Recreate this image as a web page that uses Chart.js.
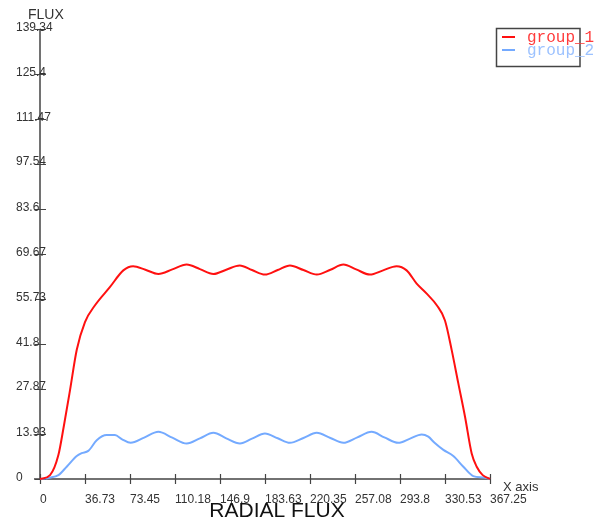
<!DOCTYPE html>
<html>
<head>
<meta charset="utf-8">
<title>RADIAL FLUX</title>
<script src="https://cdn.jsdelivr.net/npm/chart.js@4/dist/chart.umd.min.js"></script>
<style>
  html, body { margin: 0; padding: 0; background: #ffffff; }
  #wrap { width: 605px; height: 523px; }
</style>
</head>
<body>
<div id="wrap"><canvas id="c" width="605" height="523"></canvas></div>
<script>
// Radial flux profile for two energy groups
const seriesNames = ['group_1', 'group_2'];

const xTicks = [0, 36.73, 73.45, 110.18, 146.9, 183.63, 220.35, 257.08, 293.8, 330.53, 367.25];
const yTicks = [0, 13.93, 27.87, 41.8, 55.73, 69.67, 83.6, 97.54, 111.47, 125.4, 139.34];

const group1X = [0, 8.2, 15, 19.5, 24.5, 30, 36.7, 44.9, 57, 68, 76, 86, 96.6, 108, 119.7, 130.5, 141.5,
  152, 163, 173, 183.6, 194, 204, 215, 225.9, 237, 247.6, 258, 269.3, 280, 291, 299.2, 307.4, 315.6,
  323.8, 330.5, 336, 341.4, 346.9, 352.3, 356.4, 361.3, 367.25];
const group1Y = [0, 1.2, 7.4, 16.5, 27.5, 40, 48.6, 53.8, 59.4, 64.6, 65.9, 64.8, 63.5, 64.9, 66.4, 65, 63.5,
  64.8, 66.1, 64.7, 63.3, 64.7, 66.1, 64.7, 63.3, 64.8, 66.4, 64.9, 63.3, 64.6, 65.9, 64.6, 60.5, 57.4,
  53.8, 49.1, 39.9, 29.6, 19.2, 7.9, 3.8, 1.2, 0];

const group2X = [0, 8, 15, 21.8, 30, 34, 39.4, 46.3, 54.4, 61.2, 67, 74, 85, 96.6, 108, 119.7, 130.5, 141.5,
  152, 163.2, 173, 183.6, 194, 204, 215, 225.8, 237, 247.6, 259, 270.6, 281, 292.4, 302, 311.5, 316.9,
  322, 329.2, 337.3, 345.5, 353.6, 361.8, 367.25];
const group2Y = [0, 0.4, 1.2, 3.8, 7.1, 8.0, 8.7, 12.0, 13.6, 13.6, 12.3, 11.2, 12.8, 14.6, 12.8, 11.0, 12.6, 14.3,
  12.6, 11.0, 12.5, 14.1, 12.6, 11.2, 12.7, 14.3, 12.7, 11.2, 12.9, 14.6, 12.9, 11.2, 12.5, 13.8, 13.1,
  11.2, 9.0, 7.1, 3.8, 0.9, 0.5, 0];

const colors = ['#ff1010', '#74aaff'];
const legendText = ['#ff3b3b', '#9cc2ff'];

function toPoints(xs, ys) {
  return xs.map((x, i) => ({ x: x, y: ys[i] }));
}

const axisColor = '#444444';
const labelColor = '#333333';

// Axes, tick marks, titles and legend drawn with the chart's own scales
const axesPlugin = {
  id: 'plotAxes',
  beforeDatasetsDraw(chart) {
    const ctx = chart.ctx;
    const xs = chart.scales.x, ys = chart.scales.y;
    const x0 = xs.getPixelForValue(0), x1 = xs.getPixelForValue(xTicks[xTicks.length - 1]);
    const y0 = ys.getPixelForValue(0), y1 = ys.getPixelForValue(yTicks[yTicks.length - 1]);
    ctx.save();
    ctx.strokeStyle = axisColor;
    ctx.lineWidth = 1.5;
    ctx.beginPath();
    ctx.moveTo(x0, y0); ctx.lineTo(x0, y1);
    ctx.moveTo(x0 - 6, y0); ctx.lineTo(x1, y0);
    ctx.stroke();

    ctx.lineWidth = 1.2;
    ctx.beginPath();
    yTicks.forEach(v => {
      const py = Math.round(ys.getPixelForValue(v)) + 0.5;
      ctx.moveTo(x0 - 5, py); ctx.lineTo(x0 + 6, py);
    });
    xTicks.forEach(v => {
      const px = Math.round(xs.getPixelForValue(v)) + 0.5;
      ctx.moveTo(px, y0 - 5); ctx.lineTo(px, y0 + 5);
    });
    ctx.stroke();

    ctx.fillStyle = labelColor;
    ctx.font = '12px "Liberation Sans", Arial, sans-serif';
    ctx.textAlign = 'left';
    ctx.textBaseline = 'alphabetic';
    yTicks.forEach(v => {
      const py = ys.getPixelForValue(v);
      ctx.fillText(String(v), 16, py + 1.5);
    });
    xTicks.forEach(v => {
      const px = xs.getPixelForValue(v);
      ctx.fillText(String(v), px, 503);
    });

    ctx.font = '14px "Liberation Sans", Arial, sans-serif';
    ctx.fillText('FLUX', 28, 18.5);
    ctx.font = '13px "Liberation Sans", Arial, sans-serif';
    ctx.fillText('X axis', 503, 491);

    ctx.fillStyle = '#111111';
    ctx.font = '21px "Liberation Sans", Arial, sans-serif';
    ctx.textAlign = 'center';
    ctx.fillText('RADIAL FLUX', 277, 517);
    ctx.restore();
  },
  afterDraw(chart) {
    const ctx = chart.ctx;
    ctx.save();
    ctx.strokeStyle = axisColor;
    ctx.lineWidth = 1.5;
    ctx.strokeRect(496.5, 28.5, 83.5, 38);
    ctx.font = '16px "Liberation Mono", "DejaVu Sans Mono", monospace';
    ctx.textAlign = 'left';
    ctx.textBaseline = 'middle';
    chart.data.datasets.forEach((ds, i) => {
      const cy = 37 + i * 13;
      ctx.strokeStyle = ds.borderColor;
      ctx.lineWidth = 2;
      ctx.beginPath();
      ctx.moveTo(502, cy); ctx.lineTo(515, cy);
      ctx.stroke();
      ctx.fillStyle = legendText[i];
      ctx.fillText(ds.label, 527, cy + 0.5);
    });
    ctx.restore();
  }
};

new Chart(document.getElementById('c'), {
  type: 'line',
  data: {
    datasets: [
      { label: seriesNames[0], data: toPoints(group1X, group1Y), borderColor: colors[0], borderWidth: 2,
        pointRadius: 0, fill: false, cubicInterpolationMode: 'monotone', clip: false },
      { label: seriesNames[1], data: toPoints(group2X, group2Y), borderColor: colors[1], borderWidth: 2,
        pointRadius: 0, fill: false, cubicInterpolationMode: 'monotone', clip: false }
    ]
  },
  options: {
    responsive: false,
    animation: false,
    devicePixelRatio: 1,
    layout: { padding: { left: 40, right: 115, top: 29, bottom: 44 } },
    plugins: { legend: { display: false }, tooltip: { enabled: false }, title: { display: false } },
    scales: {
      x: { type: 'linear', min: 0, max: 367.25, display: false },
      y: { type: 'linear', min: 0, max: 139.34, display: false }
    }
  },
  plugins: [axesPlugin]
});
</script>
</body>
</html>
